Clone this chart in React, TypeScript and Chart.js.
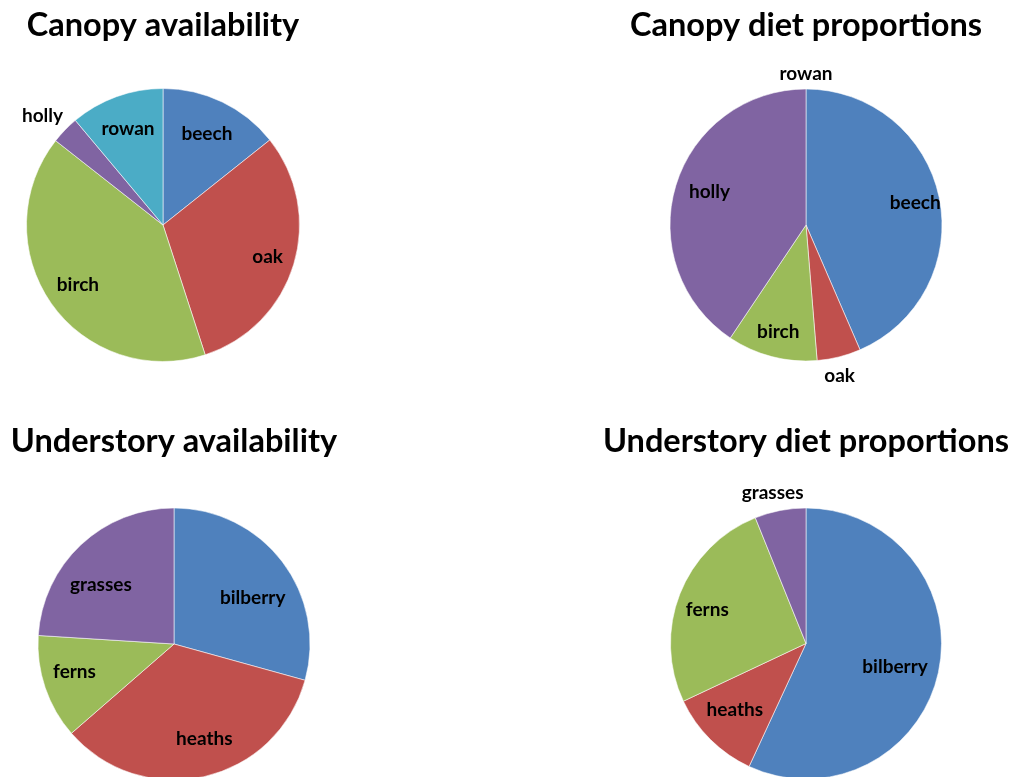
import React, { useEffect, useRef } from "react";
import { Chart, registerables } from "chart.js";

Chart.register(...registerables);

// ---- data ----
const canopyLabels = ["beech", "oak", "birch", "holly", "rowan"];
const canopyAvailability = [14.3, 30.7, 40.6, 3.3, 11.1];
const canopyDiet = [43.5, 5.2, 10.7, 40.6, 0];

const understoryLabels = ["bilberry", "heaths", "ferns", "grasses"];
const understoryAvailability = [29.3, 34.3, 12.4, 24.0];
const understoryDiet = [56.9, 11.1, 25.9, 6.1];

const titles = [
  "Canopy availability",
  "Canopy diet proportions",
  "Understory availability",
  "Understory diet proportions",
];

// ---- style ----
const BLUE = "#4F81BD";
const RED = "#C0504D";
const GREEN = "#9BBB59";
const PURPLE = "#8064A2";
const TEAL = "#4BACC6";
const canopyColors = [BLUE, RED, GREEN, PURPLE, TEAL];
const understoryColors = [BLUE, RED, GREEN, PURPLE];

const FONT = "Lato, 'Open Sans', sans-serif";
const TITLE_SIZE = 32.5;
const LABEL_SIZE = 19;

type Panel = {
  title: string;
  labels: string[];
  values: number[];
  colors: string[];
  left: number;
  top: number;
  width: number;
  height: number;
  titleMid: number; // local y of title middle
  centerY: number; // local y of pie centre
  radius: number;
  labelRadii: number[];
  labelAngleOffsets: number[];
};

const panels: Panel[] = [
  {
    title: titles[0],
    labels: canopyLabels,
    values: canopyAvailability,
    colors: canopyColors,
    left: -7,
    top: 0,
    width: 340,
    height: 400,
    titleMid: 26,
    centerY: 225,
    radius: 136.5,
    labelRadii: [0.74, 0.8, 0.76, 1.19, 0.75],
    labelAngleOffsets: [0, 0, 0, -2, 0],
  },
  {
    title: titles[1],
    labels: canopyLabels,
    values: canopyDiet,
    colors: canopyColors,
    left: 591,
    top: 0,
    width: 430,
    height: 400,
    titleMid: 26,
    centerY: 225,
    radius: 136,
    labelRadii: [0.82, 1.14, 0.81, 0.75, 1.11],
    labelAngleOffsets: [0, 1.5, 0, 2, 0],
  },
  {
    title: titles[2],
    labels: understoryLabels,
    values: understoryAvailability,
    colors: understoryColors,
    left: -1,
    top: 400,
    width: 350,
    height: 377,
    titleMid: 42,
    centerY: 244,
    radius: 136,
    labelRadii: [0.67, 0.73, 0.76, 0.69],
    labelAngleOffsets: [7, -5, 3, -8],
  },
  {
    title: titles[3],
    labels: understoryLabels,
    values: understoryDiet,
    colors: understoryColors,
    left: 591,
    top: 400,
    width: 430,
    height: 377,
    titleMid: 42,
    centerY: 243.5,
    radius: 135.5,
    labelRadii: [0.68, 0.72, 0.77, 1.14],
    labelAngleOffsets: [2.5, 2, -2.5, -1.5],
  },
];

const sliceLabelPlugin = {
  id: "sliceLabels",
  afterDatasetsDraw(chart: any, _args: any, opts: any) {
    const meta = chart.getDatasetMeta(0);
    const ctx = chart.ctx;
    ctx.save();
    ctx.font = `bold ${LABEL_SIZE}px ${FONT}`;
    ctx.fillStyle = "#000000";
    ctx.textAlign = "center";
    ctx.textBaseline = "middle";
    meta.data.forEach((arc: any, i: number) => {
      const p = arc.getProps(["x", "y", "startAngle", "endAngle", "outerRadius"], true);
      const mid = (p.startAngle + p.endAngle) / 2 + ((opts.angleOffsets[i] || 0) * Math.PI) / 180;
      const r = p.outerRadius * opts.radii[i];
      ctx.fillText(chart.data.labels[i], p.x + Math.cos(mid) * r, p.y + Math.sin(mid) * r);
    });
    ctx.restore();
  },
};

function PiePanel({ panel }: { panel: Panel }) {
  const ref = useRef<HTMLCanvasElement>(null);
  useEffect(() => {
    if (!ref.current) return;
    const lh = TITLE_SIZE * 1.2;
    const padTop = panel.titleMid - lh / 2;
    const half = 40;
    const areaTop = panel.centerY - half;
    const padBottom = areaTop - padTop - lh;
    const layoutBottom = panel.height - (panel.centerY + half);
    const chart = new Chart(ref.current, {
      type: "pie",
      data: {
        labels: panel.labels,
        datasets: [
          {
            data: panel.values,
            backgroundColor: panel.colors,
            borderColor: "rgba(255,255,255,0.55)",
            borderWidth: 1,
            radius: panel.radius,
            clip: false,
          } as any,
        ],
      },
      options: {
        responsive: false,
        animation: false,
        layout: { padding: { top: 0, bottom: layoutBottom, left: 0, right: 0 } },
        plugins: {
          legend: { display: false },
          tooltip: { enabled: false },
          title: {
            display: true,
            text: panel.title,
            color: "#000000",
            font: { family: FONT, size: TITLE_SIZE, weight: "bold", lineHeight: 1.2 },
            padding: { top: padTop, bottom: padBottom },
          },
          sliceLabels: { radii: panel.labelRadii, angleOffsets: panel.labelAngleOffsets },
        } as any,
      },
      plugins: [sliceLabelPlugin],
    });
    return () => chart.destroy();
  }, [panel]);
  return (
    <canvas
      ref={ref}
      width={panel.width}
      height={panel.height}
      style={{ position: "absolute", left: panel.left, top: panel.top, width: panel.width, height: panel.height }}
    />
  );
}

export default function App() {
  return (
    <div
      style={{
        position: "absolute",
        left: 0,
        top: 0,
        width: 1013,
        height: 777,
        overflow: "hidden",
        background: "#ffffff",
      }}
    >
      {panels.map((p, i) => (
        <PiePanel key={i} panel={p} />
      ))}
    </div>
  );
}
